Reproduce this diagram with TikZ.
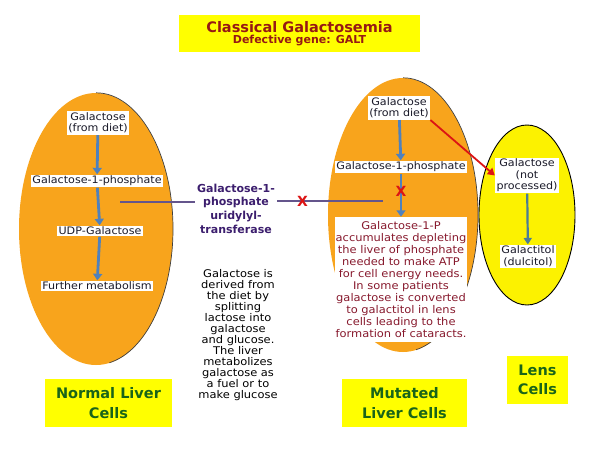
\documentclass[tikz,border=0pt]{standalone}
\usepackage{fontspec}
\setmainfont{DejaVu Sans}
\newfontfamily\vfont[FakeStretch=1.08]{DejaVu Sans}
\usetikzlibrary{shapes.geometric,arrows.meta}
\definecolor{orng}{RGB}{248,164,28}
\definecolor{ylw}{RGB}{255,255,0}
\definecolor{lensy}{RGB}{252,242,0}
\definecolor{ttl}{RGB}{150,25,20}
\definecolor{grn}{RGB}{25,100,25}
\definecolor{blu}{RGB}{79,129,189}
\definecolor{tealb}{RGB}{75,125,150}
\definecolor{purp}{RGB}{60,30,110}
\definecolor{purl}{RGB}{100,85,140}
\definecolor{mrn}{RGB}{135,25,45}
\definecolor{redx}{RGB}{220,20,20}
\definecolor{txt}{RGB}{25,25,40}
\tikzset{
 ell/.style={ellipse, inner sep=0pt},
 wbox/.style={fill=white, inner sep=1.5pt, align=center, text=txt, font=\vfont\fontsize{10.3}{11.5}\selectfont},
 flow/.style={draw=blu, line width=2.8pt, -{Triangle[width=9pt,length=6.5pt]}},
 lensflow/.style={draw=tealb, line width=2.2pt, -{Triangle[width=8pt,length=6.5pt]}},
 redarr/.style={draw=redx, line width=1.8pt, -{Triangle[width=8pt,length=7pt]}},
 enzline/.style={draw=purl, line width=2.4pt},
 lbl/.style={fill=ylw, align=center, text=grn, font=\bfseries\fontsize{14.5}{19.5}\selectfont, inner sep=0pt},
 xmark/.style={text=redx, inner sep=0pt, font=\bfseries\fontsize{14}{14}\selectfont},
 rim/.style={draw=black!75, line width=0.7pt},
}
\begin{document}
\begin{tikzpicture}[x=1pt,y=-1pt]
\useasboundingbox (0,0) rectangle (600,450);
\fill[white] (0,0) rectangle (600,450);
% title
\node[fill=ylw, minimum width=241pt, minimum height=37pt, align=center, text=ttl, inner sep=0pt] (T) at (299.5,33.5)
 {{\bfseries\fontsize{14.5}{16}\selectfont Classical Galactosemia}\\[-1pt]{\bfseries\fontsize{11}{13}\selectfont Defective gene: GALT}};
% ellipses
\node[ell, fill=orng, minimum width=154pt, minimum height=272pt] (L) at (96,229) {};
\draw[rim] (L.north) arc[start angle=90, end angle=-80, x radius=77pt, y radius=136pt];
\node[ell, fill=orng, minimum width=150pt, minimum height=274pt] (M) at (403,215) {};
\draw[rim] (M.north) arc[start angle=90, end angle=-80, x radius=75pt, y radius=137pt];
\node[ell, fill=lensy, draw=black, line width=0.9pt, minimum width=96pt, minimum height=180pt] (N) at (527,215) {};
% left flow
\node[wbox] (a1) at (98,123) {Galactose\\(from diet)};
\node[wbox] (a2) at (97,181) {Galactose-1-phosphate};
\node[wbox] (a3) at (100,231) {UDP-Galactose};
\node[wbox] (a4) at (97,286) {Further metabolism};
\draw[flow] (a1) -- (a2);
\draw[flow] (a2) -- (a3);
\draw[flow] (a3) -- (a4);
% enzyme
\node[align=center, text=purp, inner sep=2pt, font=\bfseries\fontsize{11}{13.7}\selectfont] (E) at (236,208.5)
 {Galactose-1-\\phosphate\\uridylyl-\\transferase};
\coordinate (pl) at (120,202);
\coordinate (pr) at (383,201);
% mutated flow
\node[wbox] (m1) at (399,108) {Galactose\\(from diet)};
\node[wbox] (m2) at (401,167) {Galactose-1-phosphate};
\node[fill=white, text=mrn, align=center, inner sep=0pt, minimum width=132pt, minimum height=125pt,
 font=\vfont\fontsize{10.6}{12}\selectfont] (m3) at (401,279.5)
 {Galactose-1-P\\accumulates depleting\\the liver of phosphate\\needed to make ATP\\for cell energy needs.\\In some patients\\galactose is converted\\to galactitol in lens\\cells leading to the\\formation of cataracts.};
\draw[flow] (m1) -- (m2);
\draw[flow] (m2) -- (m3) node[xmark, pos=0.4] (X2) {X};
\draw[enzline] (pl) -- (pl -| E.west);
\draw[enzline] (E.east |- pr) -- (pr) node[xmark, pos=0.24] (X1) {X};
% lens
\node[wbox] (n1) at (527,175.5) {Galactose\\(not\\processed)};
\node[wbox] (n2) at (528,256.5) {Galactitol\\(dulcitol)};
\draw[lensflow] (n1) -- (n2);
\draw[redarr] (m1.south east) -- (n1.west);
% description
\node[align=center, text=black, inner sep=0pt, font=\vfont\fontsize{10.6}{11}\selectfont] (D) at (238,335)
 {Galactose is\\derived from\\the diet by\\splitting\\lactose into\\galactose\\and glucose.\\The liver\\metabolizes\\galactose as\\a fuel or to\\make glucose};
% labels
\node[lbl, minimum width=127pt, minimum height=48pt] (NL) at (108.5,403) {Normal Liver\\Cells};
\node[lbl, minimum width=125pt, minimum height=48pt] (ML) at (404.5,403) {Mutated\\Liver Cells};
\node[lbl, minimum width=61pt, minimum height=48pt] (LC) at (537.5,380) {Lens\\Cells};
\end{tikzpicture}
\end{document}
